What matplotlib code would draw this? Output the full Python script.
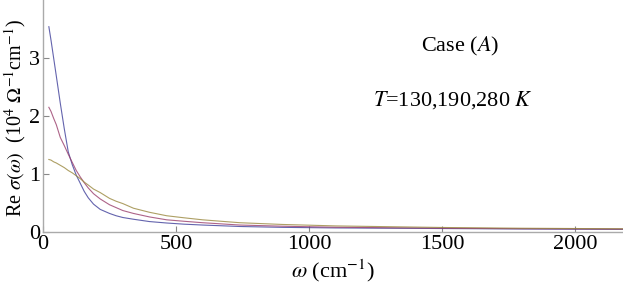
import matplotlib
matplotlib.use("Agg")
import matplotlib.pyplot as plt

# frequency grid (cm^-1)
omega = [22, 30, 40, 50, 65, 80, 95, 110, 125, 140, 155, 170, 190, 215, 250,
         275, 300, 340, 370, 400, 465, 530, 600, 740, 900, 1100, 1500, 1800, 2200]

# Re sigma (10^4 Ohm^-1 cm^-1) for T = 130, 190, 280 K
sigma_130 = [3.54, 3.31, 3.00, 2.69, 2.22, 1.78, 1.38, 1.16, 0.98, 0.84, 0.70,
             0.59, 0.48, 0.39, 0.32, 0.28, 0.25, 0.22, 0.20, 0.18, 0.155,
             0.135, 0.12, 0.095, 0.08, 0.07, 0.06, 0.052, 0.045]
sigma_190 = [2.15, 2.08, 1.96, 1.85, 1.63, 1.49, 1.34, 1.20, 1.06, 0.95, 0.85,
             0.76, 0.66, 0.57, 0.47, 0.42, 0.37, 0.32, 0.29, 0.26, 0.21,
             0.185, 0.16, 0.12, 0.10, 0.082, 0.065, 0.057, 0.05]
sigma_280 = [1.25, 1.24, 1.21, 1.19, 1.15, 1.11, 1.06, 1.02, 0.97, 0.92, 0.86,
             0.81, 0.74, 0.68, 0.58, 0.53, 0.49, 0.41, 0.375, 0.34, 0.28,
             0.245, 0.21, 0.16, 0.13, 0.105, 0.078, 0.065, 0.055]

series = [sigma_130, sigma_190, sigma_280]
colors = ["#3d3d99", "#993d6b", "#99873d"]

xticks = [0, 500, 1000, 1500, 2000]
yticks = [0, 1, 2, 3]

plt.rcParams["font.family"] = ["Liberation Serif", "DejaVu Serif"]
plt.rcParams["mathtext.fontset"] = "stix"

fig = plt.figure(figsize=(6.23, 2.89), dpi=100)
ax = fig.add_axes([43 / 623, 57 / 289, 1 - 43 / 623, 1 - 57 / 289])

for s, c in zip(series, colors):
    ax.plot(omega, s, color=c, lw=0.8, alpha=0.8)

ax.set_xlim(0, 2180)
ax.set_ylim(0, 4.0)
ax.set_xticks(xticks)
ax.set_yticks(yticks)

for side in ["top", "right"]:
    ax.spines[side].set_visible(False)
for side in ["left", "bottom"]:
    ax.spines[side].set_color("#aaaaaa")
    ax.spines[side].set_linewidth(1.0)

ax.tick_params(direction="in", length=4, color="#888888", labelsize=16, pad=2)

ax.set_xlabel(r"$\omega$ (cm$^{-1}$)", fontsize=16, labelpad=3)
ax.set_ylabel(r"Re $\sigma(\omega)$  (10$^4$ $\Omega^{-1}$cm$^{-1}$)", fontsize=14.5)
ax.yaxis.set_label_coords(-15 / 580, 0.49)

ax.text(1568, 3.19, r"Case ($A$)", fontsize=16, ha="center", va="center")
ax.text(1540, 2.28, r"$T$=130,190,280 $K$", fontsize=16, ha="center", va="center")

fig.savefig("out.png", dpi=100)
